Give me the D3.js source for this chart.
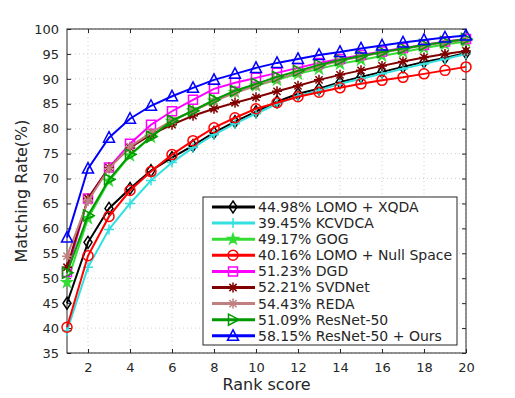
<!DOCTYPE html>
<html>
<head>
<meta charset="utf-8">
<script src="https://cdn.jsdelivr.net/npm/d3@7"></script>
<style>
  body { margin: 0; background: #fff; }
  svg text { font-family: 'DejaVu Sans', sans-serif; }
  .grid line { stroke: #d0d0d0; stroke-dasharray: 1 3; }
</style>
</head>
<body>
<div id="chart"></div>
<script>
// ranks 1..20
const ranks = d3.range(1, 21);
const xTicks = [2, 4, 6, 8, 10, 12, 14, 16, 18, 20];
const yTicks = d3.range(35, 101, 5);

const lomoXqda = [44.98, 57.2, 64, 68, 71.6, 74.2, 76.6, 79.2, 81.4, 83.4, 85.4, 87, 88, 89.3, 90.4, 91.4, 92.4, 93.4, 94.2, 95.2];
const kcvdca = [39.45, 52.2, 59.8, 65, 69.6, 73.2, 76.2, 78.8, 81, 83, 85, 86.5, 87.7, 89, 90, 91, 92, 93, 94, 95];
const gog = [49.17, 62, 69.5, 74.6, 78.3, 81.5, 83.6, 85.6, 87.3, 88.6, 89.8, 91, 92, 93, 93.8, 94.6, 95.4, 96.2, 96.9, 97.5];
const lomoNull = [40.16, 54.5, 62.4, 67.6, 71.4, 74.8, 77.6, 80.2, 82.2, 84, 85.2, 86.4, 87.3, 88.2, 89, 89.7, 90.3, 91, 91.7, 92.4];
const dgd = [51.23, 66, 72.2, 77, 80.8, 83.5, 85.8, 88, 89.2, 90.2, 91.2, 92.2, 93.2, 94, 94.8, 95.5, 96.2, 96.8, 97.5, 98];
const svdnet = [52.21, 66, 72.2, 76.2, 78.8, 80.8, 82.6, 84, 85.2, 86.3, 87.5, 88.6, 89.8, 90.8, 91.7, 92.6, 93.5, 94.3, 95, 95.6];
const reda = [54.43, 65.5, 72, 76.4, 79.2, 81.6, 83.6, 85.5, 87.2, 88.6, 90, 91.3, 92.5, 93.6, 94.5, 95.3, 96, 96.7, 97.3, 97.8];
const resnet = [51.09, 62.6, 69.8, 74.8, 78.4, 81.6, 83.6, 85.8, 87.6, 89, 90.4, 91.6, 92.8, 93.8, 94.6, 95.4, 96.1, 96.8, 97.4, 98];
const ours = [58.15, 72, 78.2, 82, 84.6, 86.5, 88.2, 89.8, 91, 92.2, 93.2, 94, 94.8, 95.4, 96.1, 96.7, 97.3, 97.8, 98.3, 98.7];

const series = [
    {name: '44.98% LOMO + XQDA', values: lomoXqda, color: '#000000', marker: 'diamond'},
    {name: '39.45% KCVDCA', values: kcvdca, color: '#33e0e0', marker: 'plus'},
    {name: '49.17% GOG', values: gog, color: '#33dd33', marker: 'star'},
    {name: '40.16% LOMO + Null Space', values: lomoNull, color: '#ff0000', marker: 'circle'},
    {name: '51.23% DGD', values: dgd, color: '#ff00ff', marker: 'square'},
    {name: '52.21% SVDNet', values: svdnet, color: '#800000', marker: 'asterisk'},
    {name: '54.43% REDA', values: reda, color: '#c08080', marker: 'asterisk'},
    {name: '51.09% ResNet-50', values: resnet, color: '#009900', marker: 'triright'},
    {name: '58.15% ResNet-50 + Ours', values: ours, color: '#0000ff', marker: 'triup'}
];

const width = 515, height = 398;
const margin = {top: 29, right: 49, bottom: 45, left: 67};
const innerW = width - margin.left - margin.right,
    innerH = height - margin.top - margin.bottom;

const svg = d3.select('#chart').append('svg')
    .attr('width', width)
    .attr('height', height);

const g = svg.append('g')
    .attr('transform', 'translate(' + margin.left + ',' + margin.top + ')');

const x = d3.scaleLinear().domain([1, 20]).range([0, innerW]);
const y = d3.scaleLinear().domain([35, 100]).range([innerH, 0]);

// grid
g.append('g').attr('class', 'grid')
    .selectAll('line').data(xTicks).enter().append('line')
    .attr('x1', d => x(d)).attr('x2', d => x(d))
    .attr('y1', 0).attr('y2', innerH);
g.append('g').attr('class', 'grid')
    .selectAll('line').data(yTicks).enter().append('line')
    .attr('y1', d => y(d)).attr('y2', d => y(d))
    .attr('x1', 0).attr('x2', innerW);

// axes, ticks pointing in (matlab style box)
function styleAxis(sel) {
    sel.select('.domain').remove();
    sel.selectAll('.tick line').attr('stroke', '#262626');
    sel.selectAll('.tick text').attr('fill', '#262626').style('font-size', '13px');
}
g.append('g').attr('transform', 'translate(0,' + innerH + ')')
    .call(d3.axisBottom(x).tickValues(xTicks).tickSizeInner(-4).tickPadding(10))
    .call(styleAxis);
g.append('g')
    .call(d3.axisTop(x).tickValues(xTicks).tickSizeInner(-4).tickFormat(''))
    .call(styleAxis);
g.append('g')
    .call(d3.axisLeft(y).tickValues(yTicks).tickSizeInner(-4).tickPadding(8))
    .call(styleAxis);
g.append('g').attr('transform', 'translate(' + innerW + ',0)')
    .call(d3.axisRight(y).tickValues(yTicks).tickSizeInner(-4).tickFormat(''))
    .call(styleAxis);

g.append('rect')
    .attr('width', innerW).attr('height', innerH)
    .attr('fill', 'none').attr('stroke', '#262626').attr('stroke-width', 1);

// marker shapes
function markerPath(type) {
    switch (type) {
        case 'diamond': return 'M0,-6L4,0L0,6L-4,0Z';
        case 'plus': return 'M-5,0L5,0M0,-5L0,5';
        case 'circle': return 'M5,0A5,5 0 1,1 -5,0A5,5 0 1,1 5,0Z';
        case 'square': return 'M-4.5,-4.5L4.5,-4.5L4.5,4.5L-4.5,4.5Z';
        case 'asterisk': return 'M-5,0L5,0M0,-5L0,5M-3.6,-3.6L3.6,3.6M-3.6,3.6L3.6,-3.6';
        case 'triright': return 'M-4.5,-5.5L6,0L-4.5,5.5Z';
        case 'triup': return 'M0,-6L5.5,4.5L-5.5,4.5Z';
        case 'star': return d3.symbol(d3.symbolStar, 32)();
    }
}
function drawMarker(sel, s) {
    sel.append('path')
        .attr('d', markerPath(s.marker))
        .attr('fill', s.marker === 'star' ? s.color : 'none')
        .attr('stroke', s.color)
        .attr('stroke-width', 1.5);
}

const line = d3.line().x((d, i) => x(ranks[i])).y(d => y(d));

series.forEach(s => {
    const sg = g.append('g');
    sg.append('path')
        .datum(s.values)
        .attr('d', line)
        .attr('fill', 'none')
        .attr('stroke', s.color)
        .attr('stroke-width', 2);
    sg.selectAll('g.mk').data(s.values).enter().append('g')
        .attr('class', 'mk')
        .attr('transform', (d, i) => 'translate(' + x(ranks[i]) + ',' + y(d) + ')')
        .each(function() { drawMarker(d3.select(this), s); });
});

// legend
const legend = svg.append('g').attr('transform', 'translate(203,197)');
legend.append('rect')
    .attr('width', 254).attr('height', 148)
    .attr('fill', '#fff').attr('stroke', '#262626').attr('stroke-width', 1);
series.forEach((s, i) => {
    const row = legend.append('g').attr('transform', 'translate(0,' + (10 + i * 16.1) + ')');
    row.append('line')
        .attr('x1', 9).attr('x2', 52)
        .attr('stroke', s.color).attr('stroke-width', 3);
    const mk = row.append('g').attr('transform', 'translate(30,0)');
    drawMarker(mk, s);
    row.append('text')
        .attr('x', 55).attr('dy', '0.35em')
        .attr('fill', '#262626')
        .style('font-size', '14px')
        .text(s.name);
});

// axis labels
svg.append('text')
    .attr('x', margin.left + innerW / 2).attr('y', 390)
    .attr('text-anchor', 'middle').attr('fill', '#262626')
    .style('font-size', '16px')
    .text('Rank score');
svg.append('text')
    .attr('transform', 'translate(27,' + (margin.top + innerH / 2) + ') rotate(-90)')
    .attr('text-anchor', 'middle').attr('fill', '#262626')
    .style('font-size', '16px')
    .text('Matching Rate(%)');
</script>
</body>
</html>
